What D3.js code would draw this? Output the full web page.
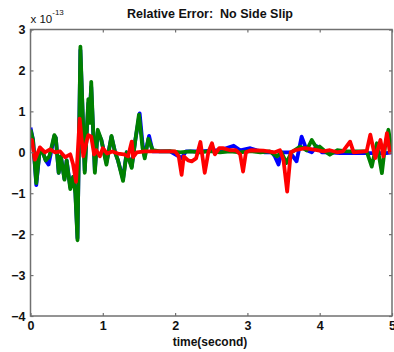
<!DOCTYPE html>
<html>
<head>
<meta charset="utf-8">
<script src="https://cdn.jsdelivr.net/npm/d3@7"></script>
<style>
  body { margin: 0; background: #fff; }
  text { font-family: "Liberation Sans", Arial, sans-serif; }
</style>
</head>
<body>
<div id="chart"></div>
<script>
// values are in units of 1e-13
const xTicks = [0, 1, 2, 3, 4, 5];
const yTicks = [-4, -3, -2, -1, 0, 1, 2, 3];

const greenT = [0, 0.035, 0.08, 0.13, 0.17, 0.21, 0.26, 0.33, 0.35, 0.39, 0.42, 0.47, 0.5, 0.55, 0.59, 0.62, 0.65, 0.69, 0.75, 0.8, 0.82, 0.84, 0.89, 0.93, 0.98, 1.05, 1.12, 1.17, 1.21, 1.28, 1.33, 1.4, 1.45, 1.5, 1.55, 1.58, 1.63, 1.69, 1.79, 1.93, 2.07, 2.21, 2.34, 2.48, 2.62, 2.76, 2.9, 3.04, 3.18, 3.31, 3.41, 3.47, 3.54, 3.61, 3.73, 3.82, 3.89, 3.96, 4.0, 4.09, 4.14, 4.24, 4.37, 4.5, 4.65, 4.72, 4.79, 4.86, 4.9, 4.95, 5.0];
const greenV = [0.55, 0.3, -0.75, 0.1, 0.0, -0.2, -0.1, 0.42, 0.35, -0.5, -0.1, -0.67, -0.2, -0.9, -0.6, -1.0, -2.15, 2.58, -0.5, 1.3, 0.72, 1.72, -0.5, 0.55, 0.3, -0.3, 0.4, 0.0, -0.2, -0.7, 0.0, -0.38, 0.3, 0.92, 0.1, -0.15, 0.33, 0.05, 0.02, 0.03, 0.0, 0.02, 0.0, 0.03, 0.0, 0.02, 0.0, 0.03, 0.0, 0.02, -0.1, 0.0, -0.26, 0.0, 0.14, 0.05, 0.3, 0.1, 0.14, 0.0, -0.06, 0.05, 0.02, 0.02, 0.02, -0.35, 0.22, -0.51, 0.1, 0.55, 0.0];

const blueT = [0, 0.035, 0.08, 0.13, 0.17, 0.21, 0.25, 0.33, 0.35, 0.39, 0.42, 0.47, 0.5, 0.55, 0.59, 0.62, 0.65, 0.69, 0.75, 0.8, 0.82, 0.84, 0.89, 0.93, 0.98, 1.05, 1.12, 1.17, 1.21, 1.28, 1.33, 1.4, 1.45, 1.51, 1.55, 1.58, 1.64, 1.69, 1.93, 2.09, 2.15, 2.34, 2.62, 2.81, 2.9, 3.04, 3.13, 3.24, 3.34, 3.38, 3.43, 3.47, 3.59, 3.68, 3.75, 3.82, 3.89, 3.96, 4.03, 4.14, 4.28, 4.56, 4.92, 5.0];
const blueV = [0.6, 0.3, -0.8, 0.1, 0.0, -0.2, -0.3, 0.4, 0.35, -0.5, -0.1, -0.65, -0.2, -0.85, -0.6, -0.95, -2.1, 2.5, -0.45, 1.2, 1.0, 1.6, -0.45, 0.5, 0.3, -0.25, 0.38, 0.0, -0.2, -0.65, 0.0, -0.35, 0.3, 0.95, 0.2, -0.1, 0.4, 0.02, 0.02, -0.14, 0.02, 0.02, 0.05, 0.16, 0.05, 0.1, 0.05, 0.0, 0.0, -0.1, -0.3, 0.0, 0.0, -0.22, 0.38, 0.05, 0.0, 0.15, 0.0, 0.0, -0.02, -0.02, -0.02, 0.0];

const redT = [0, 0.02, 0.06, 0.13, 0.2, 0.27, 0.34, 0.41, 0.48, 0.55, 0.59, 0.63, 0.68, 0.73, 0.78, 0.8, 0.84, 0.88, 0.91, 0.96, 1.0, 1.06, 1.13, 1.21, 1.29, 1.35, 1.4, 1.42, 1.47, 1.58, 1.79, 2.0, 2.05, 2.09, 2.12, 2.18, 2.23, 2.29, 2.35, 2.41, 2.46, 2.51, 2.55, 2.61, 2.66, 2.76, 2.84, 2.9, 2.94, 2.98, 3.05, 3.22, 3.38, 3.45, 3.5, 3.55, 3.6, 3.66, 3.8, 3.96, 4.05, 4.14, 4.24, 4.32, 4.42, 4.47, 4.65, 4.7, 4.77, 4.84, 4.88, 4.93, 4.97, 5.0];
const redV = [0.2, 0.3, -0.18, 0.12, 0.0, 0.07, 0.0, 0.02, -0.12, -0.05, -0.3, -0.72, 0.82, -0.1, 0.3, 0.42, 0.38, -0.05, 0.05, -0.1, 0.1, -0.03, 0.02, -0.03, -0.05, -0.1, 0.26, -0.12, 0.0, 0.02, 0.02, 0.02, -0.1, -0.55, -0.1, -0.2, -0.22, -0.15, 0.25, -0.5, 0.0, 0.22, -0.05, 0.1, 0.1, 0.05, 0.05, -0.05, -0.47, 0.0, 0.05, 0.04, 0.0, 0.05, -0.2, -0.96, 0.0, 0.05, 0.1, 0.05, 0.02, 0.05, 0.0, 0.02, 0.26, 0.0, 0.03, 0.43, -0.14, 0.3, -0.1, 0.47, 0.0, 0.05];

const series = [
  {t: blueT, v: blueV, color: '#0000ff'},
  {t: greenT, v: greenV, color: '#008000'},
  {t: redT, v: redV, color: '#ff0000'}
];

const width = 394, height = 352;
const margin = {top: 29.5, right: 2, bottom: 36, left: 30.5};
const w = width - margin.left - margin.right;
const h = height - margin.top - margin.bottom;

const svg = d3.select('#chart').append('svg')
  .attr('width', width)
  .attr('height', height);

const g = svg.append('g')
  .attr('transform', `translate(${margin.left},${margin.top})`);

const x = d3.scaleLinear().domain([0, 5]).range([0, w]);
const y = d3.scaleLinear().domain([-4, 3]).range([h, 0]);

g.append('clipPath').attr('id', 'clip')
  .append('rect').attr('width', w).attr('height', h);

// lines
const line = d3.line()
  .x(d => x(d[0]))
  .y(d => y(d[1]));

series.forEach(s => {
  g.append('path')
    .datum(d3.zip(s.t, s.v))
    .attr('clip-path', 'url(#clip)')
    .attr('fill', 'none')
    .attr('stroke', s.color)
    .attr('stroke-width', 3.8)
    .attr('stroke-linejoin', 'round')
    .attr('d', line);
});

// axes, ticks inside like matlab
const axisColor = '#707070';
function styleAxis(sel) {
  sel.select('.domain').remove();
  sel.selectAll('.tick line').attr('stroke', axisColor).attr('stroke-width', 1.2);
  sel.selectAll('.tick text')
    .attr('fill', '#111')
    .style('font-size', '12.5px')
    .style('font-weight', 'bold');
}

g.append('g')
  .attr('transform', `translate(0,${h})`)
  .call(d3.axisBottom(x).tickValues(xTicks).tickSize(-3).tickPadding(5).tickFormat(d3.format('d')))
  .call(styleAxis);

g.append('g')
  .call(d3.axisTop(x).tickValues(xTicks).tickSize(-3).tickFormat(''))
  .call(styleAxis);

g.append('g')
  .call(d3.axisLeft(y).tickValues(yTicks).tickSize(-3).tickPadding(5).tickFormat(d3.format('d')))
  .call(styleAxis);

g.append('g')
  .attr('transform', `translate(${w},0)`)
  .call(d3.axisRight(y).tickValues(yTicks).tickSize(-3).tickFormat(''))
  .call(styleAxis);

// box
g.append('rect')
  .attr('width', w)
  .attr('height', h)
  .attr('fill', 'none')
  .attr('stroke', axisColor)
  .attr('stroke-width', 1.5);

// exponent label
const expo = svg.append('text')
  .attr('x', margin.left)
  .attr('y', 23)
  .style('font-size', '11.5px')
  .attr('fill', '#111');
expo.append('tspan').text('x 10');
expo.append('tspan').attr('dy', -8).style('font-size', '8px').text('-13');

// title
svg.append('text')
  .attr('x', 210)
  .attr('y', 18)
  .attr('text-anchor', 'middle')
  .style('font-size', '12.5px')
  .style('font-weight', 'bold')
  .style('white-space', 'pre')
  .attr('fill', '#111')
  .text('Relative Error:  No Side Slip');

// x label
svg.append('text')
  .attr('x', 210)
  .attr('y', 346)
  .attr('text-anchor', 'middle')
  .style('font-size', '12px')
  .style('font-weight', 'bold')
  .attr('fill', '#111')
  .text('time(second)');
</script>
</body>
</html>
